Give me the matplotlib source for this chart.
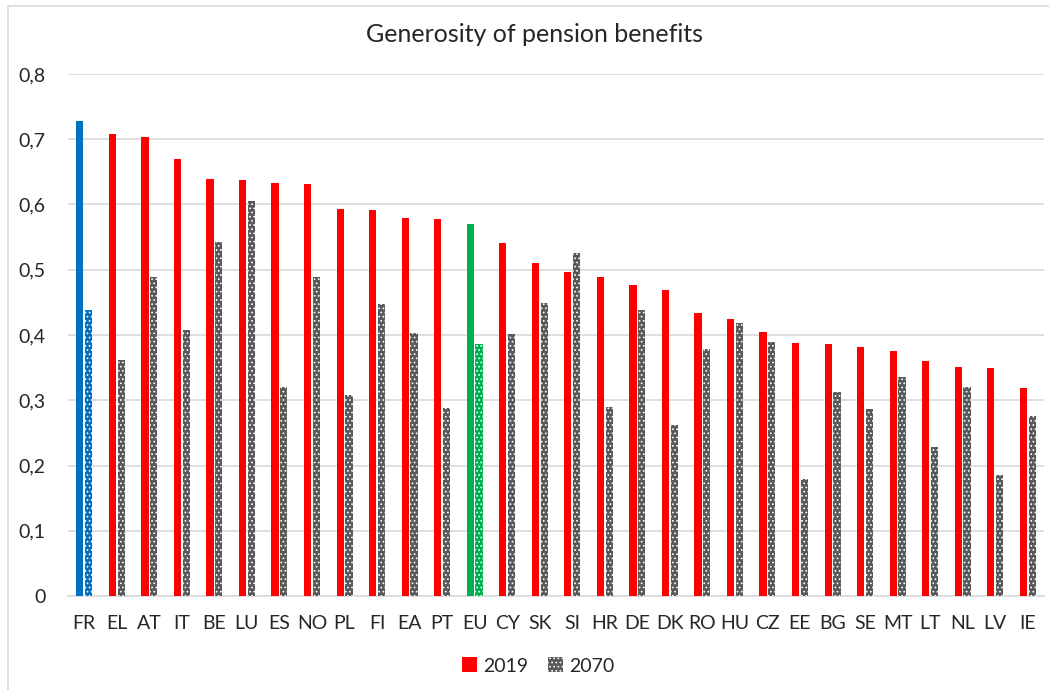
import matplotlib
matplotlib.use("Agg")
import matplotlib.pyplot as plt
import numpy as np
from matplotlib.patches import Patch, Rectangle
from matplotlib.ticker import FuncFormatter

countries = ["FR", "EL", "AT", "IT", "BE", "LU", "ES", "NO", "PL", "FI",
             "EA", "PT", "EU", "CY", "SK", "SI", "HR", "DE", "DK", "RO",
             "HU", "CZ", "EE", "BG", "SE", "MT", "LT", "NL", "LV", "IE"]
v2019 = [0.728, 0.708, 0.703, 0.670, 0.639, 0.637, 0.633, 0.631, 0.593, 0.591,
         0.580, 0.578, 0.570, 0.541, 0.511, 0.496, 0.489, 0.476, 0.469, 0.433,
         0.424, 0.404, 0.388, 0.386, 0.382, 0.376, 0.360, 0.351, 0.349, 0.319]
v2070 = [0.438, 0.362, 0.489, 0.408, 0.543, 0.606, 0.320, 0.489, 0.308, 0.448,
         0.403, 0.288, 0.386, 0.401, 0.449, 0.525, 0.289, 0.438, 0.262, 0.378,
         0.418, 0.390, 0.180, 0.313, 0.286, 0.336, 0.229, 0.320, 0.186, 0.276]

plt.rcParams["font.family"] = ["Lato", "DejaVu Sans"]
plt.rcParams["hatch.linewidth"] = 0.7

RED = "#FF0000"
GREY = "#595959"
BLUE = "#0070C0"
GREEN = "#00B050"
TXT = "#262626"

fig = plt.figure(figsize=(10.49, 6.9), dpi=100)
ax = fig.add_axes([68 / 1049, 1 - 596 / 690, 976 / 1049, 522 / 690])

# light frame around the chart
fig.patches.append(Rectangle((8 / 1049, -0.1), 1.2, 1 - 6 / 690 + 0.1,
                             transform=fig.transFigure, fill=False,
                             edgecolor="#d9d9d9", linewidth=1.2))

x = np.arange(len(countries))
w = 0.22
c1 = [RED] * len(countries)
c2 = [GREY] * len(countries)
c1[countries.index("FR")] = BLUE
c2[countries.index("FR")] = BLUE
c1[countries.index("EU")] = GREEN
c2[countries.index("EU")] = GREEN

ax.bar(x - 0.135, v2019, w, color=c1, linewidth=0, zorder=3)
ax.bar(x + 0.135, v2070, w, color=c2, edgecolor="white", linewidth=0,
       hatch="....", zorder=3)

ax.set_ylim(0, 0.8)
ax.set_xlim(-0.5, len(countries) - 0.5)
ax.set_yticks(np.arange(0, 0.81, 0.1))
ax.yaxis.set_major_formatter(
    FuncFormatter(lambda v, _: "0" if v == 0 else f"{v:.1f}".replace(".", ",")))
ax.set_xticks(x)
ax.set_xticklabels(countries)
ax.tick_params(axis="both", length=0, labelsize=14, colors=TXT)
ax.tick_params(axis="x", pad=14)
ax.tick_params(axis="y", pad=16)
ax.grid(axis="y", color="#d9d9d9", linewidth=1.2, zorder=0)
for s in ["top", "right", "left"]:
    ax.spines[s].set_visible(False)
ax.spines["bottom"].set_color("#d9d9d9")
ax.spines["bottom"].set_linewidth(1.2)

fig.text(0.510, 1 - 35 / 690, "Generosity of pension benefits",
         ha="center", va="center", fontsize=18, color=TXT)

handles = [Patch(facecolor=RED, label="2019"),
           Patch(facecolor=GREY, edgecolor="white", linewidth=0,
                 hatch="....", label="2070")]
fig.legend(handles=handles, loc="center", bbox_to_anchor=(0.513, 1 - 666 / 690),
           ncol=2, frameon=False, fontsize=14, handlelength=0.8,
           handleheight=0.8, handletextpad=0.3, columnspacing=1.0,
           labelcolor=TXT)

fig.savefig("out.png", dpi=100)
